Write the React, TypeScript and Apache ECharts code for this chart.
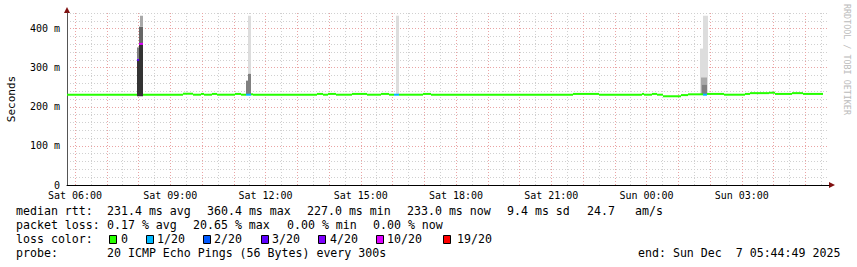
import React, { useEffect, useRef } from "react";
import * as echarts from "echarts";

// time axis in hours since Sat 00:00
const START_H = 5 + 44 / 60 + 49 / 3600;
const END_H = START_H + 24;

const lossColors = ["#26ff00", "#00b8ff", "#0059ff", "#5e00ff", "#7e00ff", "#dd00ff", "#ff0000"];
const lossLabels = ["0", "1/20", "2/20", "3/20", "4/20", "10/20", "19/20"];

// median rtt steps (start hour, ms, loss colour index); last step ends at medLastEnd
const medStart = [5.747, 7.952, 8.015, 8.14, 9.4, 9.715, 9.967, 10.062, 10.314, 10.471, 11.038, 11.227, 11.385, 11.542, 11.605, 13.621, 13.81, 13.967, 14.219, 14.723, 15.196, 15.637, 15.889, 16.046, 16.204, 16.96, 17.211, 21.684, 22.503, 23.857, 23.92, 24.172, 24.329, 24.519, 25.085, 25.306, 25.778, 25.904, 26.44, 27.101, 27.259, 27.857, 28.046, 28.582, 28.928];
const medLastEnd = 29.558;
const medValue = [231, 320, 361, 231, 233.5, 231, 233, 231, 233, 231, 233, 231, 231, 232, 231, 233, 231, 233, 231, 233, 231, 233, 231, 231, 231, 233, 231, 233, 231, 233, 231, 233, 231, 227, 230, 232, 231, 233, 231, 233, 235, 236, 233, 235, 233];
const medLoss = [0, 3, 5, 0, 0, 0, 0, 0, 0, 0, 0, 0, 1, 0, 0, 0, 0, 0, 0, 0, 0, 0, 0, 1, 0, 0, 0, 0, 0, 0, 0, 0, 0, 0, 0, 0, 1, 0, 0, 0, 0, 0, 0, 0, 0];

// smoke (ping spread) blocks
const smokeStart = [7.952, 7.952, 8.015, 8.015, 8.046, 11.385, 11.448, 11.448, 16.109, 25.684, 25.778, 25.715, 25.747];
const smokeEnd = [8.015, 8.015, 8.14, 8.14, 8.14, 11.448, 11.542, 11.542, 16.204, 25.778, 25.935, 25.904, 25.904];
const smokeLow = [227, 323, 227, 361, 405, 231, 231, 285, 231, 231, 231, 231, 231];
const smokeHigh = [323, 352, 361, 405, 433, 267, 285, 433, 433, 349, 433, 275, 256];
const smokeShade = [0, 2, 0, 1, 3, 2, 2, 4, 4, 4, 4, 3, 2];
const smokePalette = ["#333333", "#666666", "#808080", "#a8a8a8", "#dddddd"];

const xLabelHours = [6, 9, 12, 15, 18, 21, 24, 27];

const legendRtt = ["median rtt:", "231.4 ms avg", "360.4 ms max", "227.0 ms min", "233.0 ms now", "9.4 ms sd", "24.7", "am/s"];
const legendLoss = ["packet loss:", "0.17 % avg", "20.65 % max", "0.00 % min", "0.00 % now"];
const legendProbe = ["probe:", "20 ICMP Echo Pings (56 Bytes) every 300s", "end: Sun Dec  7 05:44:49 2025"];

// layout
const rttX = [16, 107, 207, 307, 407, 507, 587, 635];
const lossX = [16, 107, 193, 287, 373];
const boxX = [109, 146, 203, 261, 318, 376, 443];
const boxLabelX = [121, 157, 214, 272, 330, 387, 457];
const probeX = [16, 107, 638];
const MONO = "DejaVu Sans Mono";

export default function App() {
  const ref = useRef<HTMLDivElement>(null);
  useEffect(() => {
    if (!ref.current) return;
    const chart = echarts.init(ref.current, undefined, { renderer: "svg" });

    const halfHours: number[] = [];
    for (let h = 6; h <= END_H; h += 0.5) halfHours.push(h);

    const medData = medStart.map((s, i) => [s, i + 1 < medStart.length ? medStart[i + 1] : medLastEnd, medValue[i], medLoss[i]]);
    const smokeData = smokeStart.map((s, i) => [s, smokeEnd[i], smokeLow[i], smokeHigh[i], smokeShade[i]]);

    const txt = (x: number, y: number, s: string, size = 11.6, extra: any = {}) => ({
      type: "text",
      x,
      y,
      silent: true,
      style: { text: s, fill: "#000", font: `${size}px "${MONO}"`, textAlign: "left", textVerticalAlign: "middle", ...extra },
    });

    const graphics: any[] = [];
    legendRtt.forEach((s, i) => graphics.push(txt(rttX[i], 211, s)));
    legendLoss.forEach((s, i) => graphics.push(txt(lossX[i], 225, s)));
    graphics.push(txt(16, 239, "loss color:"));
    lossLabels.forEach((s, i) => {
      graphics.push({ type: "rect", silent: true, shape: { x: boxX[i] + 0.5, y: 235.5, width: 7, height: 8 }, style: { fill: lossColors[i], stroke: "#000", lineWidth: 1 } });
      graphics.push(txt(boxLabelX[i], 239, s));
    });
    legendProbe.forEach((s, i) => graphics.push(txt(probeX[i], 253, s)));
    graphics.push({
      type: "text", x: 11, y: 99, rotation: Math.PI / 2, silent: true,
      style: { text: "Seconds", fill: "#000", font: `11px "${MONO}"`, textAlign: "center", textVerticalAlign: "middle" },
    });
    graphics.push({
      type: "text", x: 847, y: 4, rotation: -Math.PI / 2, silent: true,
      style: { text: "RRDTOOL / TOBI OETIKER", fill: "#bbbbbb", font: `8.4px "${MONO}"`, textAlign: "left", textVerticalAlign: "middle" },
    });
    graphics.push({ type: "polygon", silent: true, shape: { points: [[64, 13], [70, 13], [67, 7]] }, style: { fill: "#801010" } });
    graphics.push({ type: "polygon", silent: true, shape: { points: [[829, 182], [829, 188], [835, 185]] }, style: { fill: "#801010" } });

    chart.setOption({
      animation: false,
      backgroundColor: "#ffffff",
      grid: { left: 67, right: 28, top: 13, bottom: 82 },
      xAxis: {
        type: "value",
        min: START_H,
        max: END_H,
        axisLine: { show: true, lineStyle: { color: "#000", width: 1 } },
        axisTick: { show: false, customValues: halfHours },
        axisLabel: {
          customValues: xLabelHours,
          formatter: (v: number) => `${v >= 24 ? "Sun" : "Sat"} ${String(Math.round(v % 24)).padStart(2, "0")}:00`,
          fontFamily: MONO,
          fontSize: 10,
          color: "#000",
          margin: 5,
        },
        splitLine: { show: true, lineStyle: { color: ["#eaa4a4", "#d0d0d0"], type: [1, 2], width: 1 } },
      },
      yAxis: {
        type: "value",
        min: 0,
        max: 440,
        interval: 20,
        axisLine: { show: true, lineStyle: { color: "#555", width: 1 } },
        axisTick: { show: false },
        axisLabel: {
          formatter: (v: number) => (v % 100 === 0 ? (v === 0 ? "0" : `${v} m`) : ""),
          fontFamily: MONO,
          fontSize: 10,
          color: "#000",
          margin: 7,
        },
        splitLine: { show: true, lineStyle: { color: ["#eaa4a4", "#d0d0d0", "#d0d0d0", "#d0d0d0", "#d0d0d0"], type: [1, 2], width: 1 } },
      },
      series: [
        {
          type: "custom",
          silent: true,
          encode: { x: [0, 1], y: [2, 3] },
          data: smokeData,
          renderItem: (_p: any, api: any) => {
            const a = api.coord([api.value(0), api.value(3)]);
            const b = api.coord([api.value(1), api.value(2)]);
            return { type: "rect", shape: { x: a[0], y: a[1], width: b[0] - a[0], height: b[1] - a[1] }, style: { fill: smokePalette[api.value(4)] } };
          },
        },
        {
          type: "custom",
          silent: true,
          encode: { x: [0, 1], y: 2 },
          data: medData,
          renderItem: (_p: any, api: any) => {
            const a = api.coord([api.value(0), api.value(2)]);
            const b = api.coord([api.value(1), api.value(2)]);
            return { type: "rect", shape: { x: a[0], y: a[1] - 1, width: b[0] - a[0], height: 2 }, style: { fill: lossColors[api.value(3)] } };
          },
        },
      ],
      graphic: graphics,
    });
    return () => chart.dispose();
  }, []);
  return <div ref={ref} style={{ position: "fixed", left: 0, top: 0, width: 857, height: 267, background: "#fff" }} />;
}
